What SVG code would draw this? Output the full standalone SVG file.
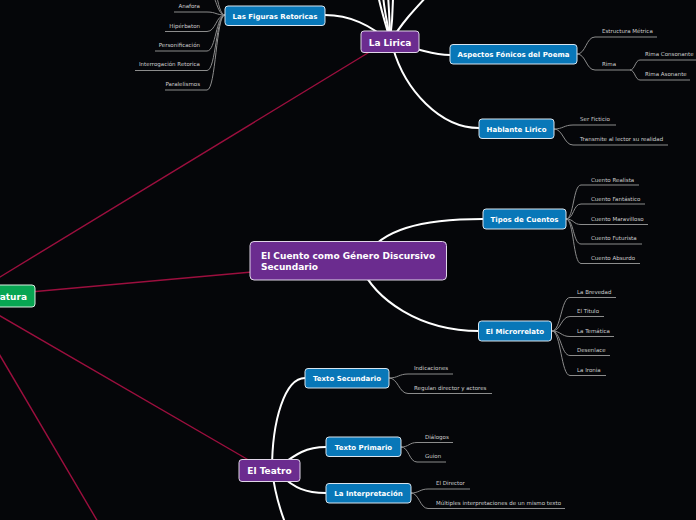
<svg xmlns="http://www.w3.org/2000/svg" width="696" height="520" viewBox="0 0 696 520">
<style>
.bg{fill:#050609}
.red{stroke:#9c0f3e;stroke-width:1.4;fill:none}
.br{stroke:#ffffff;stroke-width:2;fill:none;stroke-linecap:round}
.lf{stroke:#8c8c8c;stroke-width:1;fill:none}
.lt{font-family:"DejaVu Sans",Verdana,sans-serif;font-size:5.5px;fill:#cfcfcf}
.nt{font-family:"DejaVu Sans",Verdana,sans-serif;font-weight:bold;fill:#ffffff}
.blue{fill:#0877b8;stroke:#d8e4ee;stroke-width:1}
.purple{fill:#6b2c8f;stroke:#e0d6e8;stroke-width:1}
.green{fill:#08a552;stroke:#d8eee0;stroke-width:1}
</style>
<rect class="bg" x="0" y="0" width="696" height="520"/>
<g id="connectors">
<line class="red" x1="-5" y1="280" x2="376" y2="48"/>
<line class="red" x1="30" y1="292" x2="252" y2="272"/>
<line class="red" x1="-5" y1="313" x2="252" y2="462"/>
<line class="red" x1="-5" y1="347" x2="98" y2="522"/>
<path class="br" d="M390,40 C386,25 381,10 378,-5"/>
<path class="br" d="M390,40 C388,25 384,10 383,-5"/>
<path class="br" d="M390,40 C390,25 389,10 388,-5"/>
<path class="br" d="M390,40 C392,25 393,10 393,-5"/>
<path class="br" d="M392,40 C400,25 414,10 428,-5"/>
<path class="br" d="M390,42 C370,25 350,15 325,15"/>
<path class="br" d="M408,47 C430,52 435,55 450,55"/>
<path class="br" d="M393,48 C405,90 440,128 479,128"/>
<path class="br" d="M365,258 C380,230 420,219 483,219"/>
<path class="br" d="M360,265 C375,300 420,331 479,331"/>
<path class="br" d="M272,470 C272,420 285,378 305,378"/>
<path class="br" d="M272,470 C275,495 280,510 286,525"/>
<path class="br" d="M280,466 C295,455 305,447 326,447"/>
<path class="br" d="M280,475 C295,488 305,493 326,493"/>
<path class="lf" d="M225,15 C216,15 216,-10 207,-10"/>
<path class="lf" d="M225,15 C216,15 216,-30 207,-30"/>
<path class="lf" d="M225,15 C216,15 216,12 207,12 H174"/>
<path class="lf" d="M225,15 C216,15 216,31.5 207,31.5 H165"/>
<path class="lf" d="M225,15 C216,15 216,51 207,51 H155"/>
<path class="lf" d="M225,15 C216,15 216,70.5 207,70.5 H135"/>
<path class="lf" d="M225,15 C216,15 216,90 207,90 H165"/>
<path class="lf" d="M577,54 C586,54 586,37 595,37 H657"/>
<path class="lf" d="M577,54 C586,54 586,70 595,70 H630"/>
<path class="lf" d="M630,70 C635,70 635,60 640,60 H700"/>
<path class="lf" d="M630,70 C635,70 635,80 640,80 H690"/>
<path class="lf" d="M554,129 C563,129 564,125 573,125 H616"/>
<path class="lf" d="M554,129 C563,129 564,145 573,145 H668"/>
<path class="lf" d="M566,219 C574,219 573,185 581,185 H639"/>
<path class="lf" d="M566,219 C574,219 573,204 581,204 H645"/>
<path class="lf" d="M566,219 C574,219 573,224.5 581,224.5 H648"/>
<path class="lf" d="M566,219 C574,219 573,244 581,244 H642"/>
<path class="lf" d="M566,219 C574,219 573,263.5 581,263.5 H640"/>
<path class="lf" d="M552,331 C561,331 561,297.5 570,297.5 H616"/>
<path class="lf" d="M552,331 C561,331 561,316.5 570,316.5 H604"/>
<path class="lf" d="M552,331 C561,331 561,336.5 570,336.5 H614"/>
<path class="lf" d="M552,331 C561,331 561,355.5 570,355.5 H610"/>
<path class="lf" d="M552,331 C561,331 561,375.5 570,375.5 H606"/>
<path class="lf" d="M389,378 C398,378 399,374 408,374 H453"/>
<path class="lf" d="M389,378 C398,378 399,393.5 408,393.5 H492"/>
<path class="lf" d="M401,447 C409,447 409,442.5 417,442.5 H453"/>
<path class="lf" d="M401,447 C409,447 409,462 417,462 H446"/>
<path class="lf" d="M411,493 C419,493 420,489 428,489 H470"/>
<path class="lf" d="M411,493 C419,493 420,508.5 428,508.5 H565"/>
</g>
<g id="leaves">
<text class="lt" x="200" y="8" text-anchor="end">Anafora</text>
<text class="lt" x="200" y="28" text-anchor="end">Hipérbaton</text>
<text class="lt" x="200" y="47" text-anchor="end">Personificación</text>
<text class="lt" x="200" y="66" text-anchor="end">Interrogación Retorica</text>
<text class="lt" x="200" y="86" text-anchor="end">Paralelismos</text>
<text class="lt" x="602" y="33">Estructura Métrica</text>
<text class="lt" x="602" y="66">Rima</text>
<text class="lt" x="645" y="56">Rima Consonante</text>
<text class="lt" x="645" y="76">Rima Asonante</text>
<text class="lt" x="580" y="121">Ser Ficticio</text>
<text class="lt" x="580" y="141">Transmite al lector su realidad</text>
<text class="lt" x="591" y="182">Cuento Realista</text>
<text class="lt" x="591" y="201">Cuento Fantástico</text>
<text class="lt" x="591" y="221">Cuento Maravilloso</text>
<text class="lt" x="591" y="240">Cuento Futurista</text>
<text class="lt" x="591" y="260">Cuento Absurdo</text>
<text class="lt" x="577" y="294">La Brevedad</text>
<text class="lt" x="577" y="313">El Titulo</text>
<text class="lt" x="577" y="333">La Temática</text>
<text class="lt" x="577" y="352">Desenlace</text>
<text class="lt" x="577" y="372">La Ironia</text>
<text class="lt" x="414" y="370">Indicaciones</text>
<text class="lt" x="414" y="390">Regulan director y actores</text>
<text class="lt" x="425" y="439">Diálogos</text>
<text class="lt" x="425" y="458">Guion</text>
<text class="lt" x="436" y="485">El Director</text>
<text class="lt" x="436" y="505">Múltiples interpretaciones de un mismo texto</text>
</g>
<g id="root">
<rect class="green" x="-50" y="285" width="85" height="22" rx="3"/>
<text class="nt" x="27" y="299.5" font-size="9" text-anchor="end">Literatura</text>
</g>
<g id="la-lirica">
<rect class="purple" x="361" y="31" width="58" height="21.5" rx="3"/>
<text class="nt" x="390" y="45.5" font-size="9" text-anchor="middle">La Lirica</text>
</g>
<g id="figuras">
<rect class="blue" x="225" y="6" width="100" height="19.5" rx="3"/>
<text class="nt" x="275" y="18.5" font-size="7" text-anchor="middle">Las Figuras Retoricas</text>
</g>
<g id="aspectos">
<rect class="blue" x="450" y="44.5" width="127" height="19.5" rx="3"/>
<text class="nt" x="513.5" y="57" font-size="7" text-anchor="middle">Aspectos Fónicos del Poema</text>
</g>
<g id="hablante">
<rect class="blue" x="479" y="119" width="75" height="19.5" rx="3"/>
<text class="nt" x="516.5" y="131.5" font-size="7" text-anchor="middle">Hablante Lirico</text>
</g>
<g id="cuento">
<rect class="purple" x="250" y="241.5" width="196.5" height="38.5" rx="4"/>
<text class="nt" x="261" y="258.5" font-size="9">El Cuento como Género Discursivo</text>
<text class="nt" x="261" y="269.5" font-size="9">Secundario</text>
</g>
<g id="tipos">
<rect class="blue" x="483" y="209" width="83" height="20" rx="3"/>
<text class="nt" x="524.5" y="221.5" font-size="7" text-anchor="middle">Tipos de Cuentos</text>
</g>
<g id="microrrelato">
<rect class="blue" x="478.5" y="321" width="73" height="20" rx="3"/>
<text class="nt" x="515" y="333.5" font-size="7" text-anchor="middle">El Microrrelato</text>
</g>
<g id="teatro">
<rect class="purple" x="239" y="459.5" width="61" height="22" rx="3"/>
<text class="nt" x="269.5" y="474" font-size="9" text-anchor="middle">El Teatro</text>
</g>
<g id="texto-secundario">
<rect class="blue" x="305" y="368.5" width="84" height="19.5" rx="3"/>
<text class="nt" x="347" y="381" font-size="7" text-anchor="middle">Texto Secundario</text>
</g>
<g id="texto-primario">
<rect class="blue" x="326" y="437" width="75" height="19.5" rx="3"/>
<text class="nt" x="363.5" y="449.5" font-size="7" text-anchor="middle">Texto Primario</text>
</g>
<g id="interpretacion">
<rect class="blue" x="326" y="483.5" width="85" height="19.5" rx="3"/>
<text class="nt" x="368.5" y="496" font-size="7" text-anchor="middle">La Interpretación</text>
</g>
</svg>
